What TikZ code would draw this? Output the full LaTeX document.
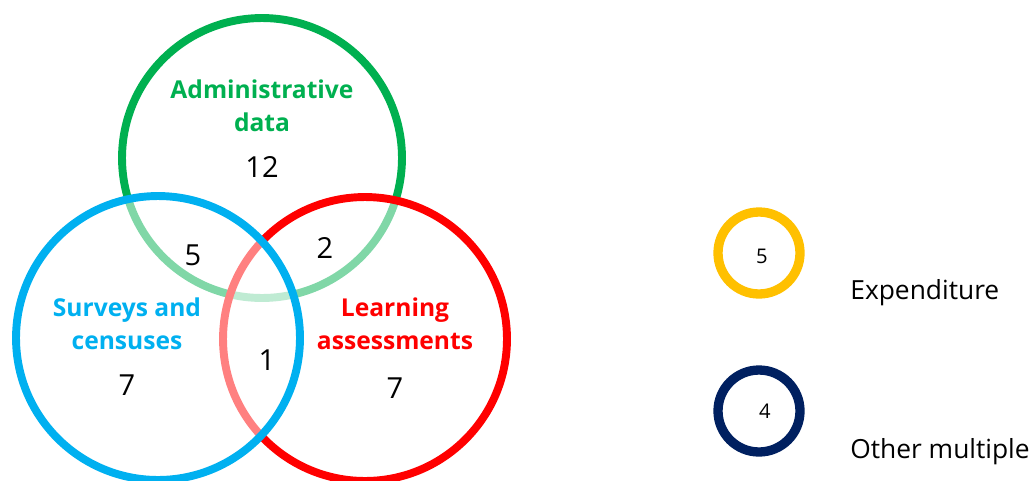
\documentclass[tikz,border=0pt]{standalone}
\usepackage{fontspec}
\setmainfont{Open Sans}
\definecolor{admgreen}{HTML}{00B050}
\definecolor{svyblue}{HTML}{00B0F0}
\definecolor{lrnred}{HTML}{FF0000}
\definecolor{expgold}{HTML}{FFC000}
\definecolor{othnavy}{HTML}{002060}
\tikzset{
  vset/.style={draw=#1,circle,inner sep=0pt,minimum size=5.68cm,line width=4.5pt},
  vveil/.style={fill=white,fill opacity=0.5},
  vlabel/.style={text=#1,font=\fontsize{14}{19}\selectfont\bfseries,align=center},
  vcount/.style={font=\fontsize{16.5}{18}\selectfont},
  lset/.style={draw=#1,circle,inner sep=0pt,minimum size=1.64cm,line width=5.3pt},
  lcount/.style={font=\fontsize{11.5}{13}\selectfont},
  ltext/.style={anchor=base west,inner sep=0pt,font=\fontsize{15}{17}\selectfont},
}
\begin{document}
\begin{tikzpicture}[x=0.02cm,y=-0.02cm]
    \useasboundingbox (0,0) rectangle (1033,480);%
    % the three sets, the later ones veil the arcs below them
    \node[vset=admgreen,minimum size=5.6cm] at (262,158) (adm) {};%
    \node[vset=lrnred,vveil] at (365,339) (lrn) {};%
    \node[vset=svyblue,vveil] at (158,338) (svy) {};%
    \node[vlabel=admgreen] at (262,106) (admlabel) {Administrative\\data};%
    \node[vlabel=svyblue] at (127,324) (svylabel) {Surveys and\\censuses};%
    \node[vlabel=lrnred] at (395,324) (lrnlabel) {Learning\\assessments};%
    \foreach \n/\x/\y/\t in {admn/262/167/12, admsvy/193/255/5, admlrn/325/248/2,
                             all/267/360/1, svyn/127/385/7, lrnn/395/388/7} {%
      \node[vcount] at (\x,\y) (\n) {\t};%
    };%
    % legend
    \node[lset=expgold] at (759,253) (exp) {};%
    \node[lset=othnavy] at (759,411) (oth) {};%
    \node[lcount] at (762,256) (expn) {5};%
    \node[lcount] at (765,411) (othn) {4};%
    \node[ltext] at (850,299) (explabel) {Expenditure};%
    \node[ltext] at (850,458) (othlabel) {Other multiple};%
\end{tikzpicture}
\end{document}
